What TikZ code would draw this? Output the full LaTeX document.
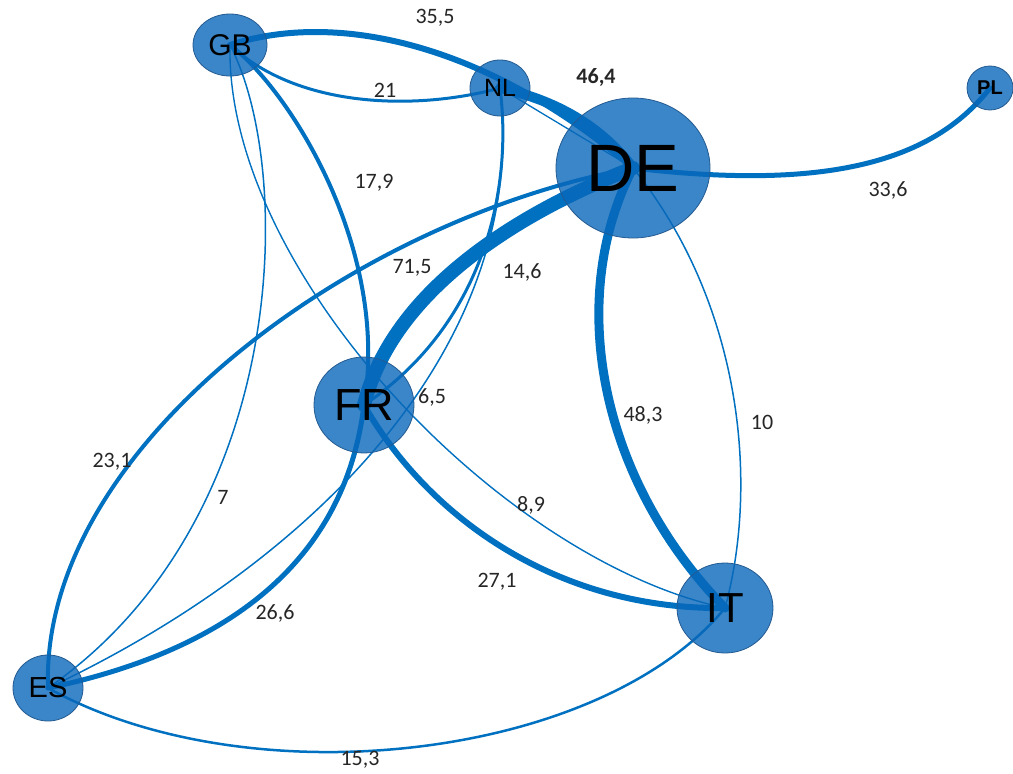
\documentclass[tikz,border=0pt]{standalone}
\usepackage{fontspec}
\setmainfont{Liberation Sans}
\newfontfamily\lblfont{Carlito}
\usetikzlibrary{shapes.geometric,backgrounds}
\definecolor{edgeblue}{RGB}{0,112,192}
\definecolor{nodeblue}{RGB}{9,104,186}
\definecolor{nodeborder}{RGB}{35,90,145}
\tikzset{
  country/.style={ellipse, inner sep=0pt, fill=nodeblue, fill opacity=0.8, text opacity=1,
    draw=nodeborder, line width=0.8pt, text=black},
  link/.style={draw=edgeblue, line cap=round},
  wlabel/.style={font=\lblfont\fontsize{22}{22}\selectfont, text=black!85, inner sep=0pt}
}
\begin{document}
\begin{tikzpicture}[x=1pt,y=-1pt]
\useasboundingbox (0,0) rectangle (1013,774);
% nodes
\node[country, minimum width=74pt, minimum height=62pt, font=\fontsize{30}{30}\selectfont] (GB) at (230,45) {GB};
\node[country, minimum width=60pt, minimum height=56pt, font=\fontsize{25}{25}\selectfont] (NL) at (500,88) {NL};
\node[country, minimum width=154pt, minimum height=140pt, font=\fontsize{67}{67}\selectfont] (DE) at (633,168) {DE};
\node[country, minimum width=46pt, minimum height=44pt, font=\bfseries\fontsize{20}{20}\selectfont] (PL) at (990,88) {PL};
\node[country, minimum width=100pt, minimum height=96pt, font=\fontsize{45}{45}\selectfont] (FR) at (364,405) {FR};
\node[country, minimum width=96pt, minimum height=90pt, font=\fontsize{42}{42}\selectfont] (IT) at (725,608) {IT};
\node[country, minimum width=70pt, minimum height=66pt, font=\fontsize{29}{29}\selectfont] (ES) at (48,688) {ES};
% edges
\begin{scope}[on background layer]
\draw[link, line width=6pt] (GB.center) .. controls (330,12) and (480,38) .. (DE.center);
\draw[link, line width=10pt] (NL.center) .. controls (555,100) and (600,125) .. (DE.center);
\draw[link, line width=1.3pt] (NL.center) -- (DE.center);
\draw[link, line width=3pt] (GB.center) .. controls (300,110) and (420,110) .. (NL.center);
\draw[link, line width=4pt] (GB.center) .. controls (290,90) and (390,250) .. (FR.center);
\draw[link, line width=1.5pt] (GB.center) .. controls (295,170) and (290,520) .. (ES.center);
\draw[link, line width=1.4pt] (GB.center) .. controls (225,270) and (500,560) .. (IT.center);
\draw[link, line width=3pt] (NL.center) .. controls (512,180) and (490,320) .. (FR.center);
\draw[link, line width=1.5pt] (NL.center) .. controls (530,340) and (320,560) .. (ES.center);
\draw[link, line width=14pt] (DE.center) .. controls (500,220) and (390,300) .. (FR.center);
\draw[link, line width=4pt] (DE.center) .. controls (350,220) and (40,450) .. (ES.center);
\draw[link, line width=9pt] (DE.center) .. controls (565,300) and (600,480) .. (IT.center);
\draw[link, line width=1.5pt] (DE.center) .. controls (740,300) and (760,480) .. (IT.center);
\draw[link, line width=5pt] (DE.center) .. controls (820,190) and (930,165) .. (PL.center);
\draw[link, line width=6pt] (FR.center) .. controls (430,520) and (560,610) .. (IT.center);
\draw[link, line width=5pt] (FR.center) .. controls (345,560) and (230,650) .. (ES.center);
\draw[link, line width=2.5pt] (ES.center) .. controls (250,800) and (600,760) .. (IT.center);
\end{scope}
% labels
\node[wlabel] (l355) at (435,18) {35,5};
\node[wlabel] (l21) at (385,90) {21};
\node[wlabel, font=\bfseries\lblfont\fontsize{22}{22}\selectfont] (l464) at (596,77) {46,4};
\node[wlabel] (l179) at (374,183) {17,9};
\node[wlabel] (l715) at (412,268) {71,5};
\node[wlabel] (l146) at (522,272) {14,6};
\node[wlabel] (l336) at (888,190) {33,6};
\node[wlabel] (l65) at (432,397) {6,5};
\node[wlabel] (l483) at (643,415) {48,3};
\node[wlabel] (l10) at (762,422) {10};
\node[wlabel] (l231) at (112,462) {23,1};
\node[wlabel] (l7) at (223,497) {7};
\node[wlabel] (l89) at (531,505) {8,9};
\node[wlabel] (l271) at (497,582) {27,1};
\node[wlabel] (l266) at (275,613) {26,6};
\node[wlabel] (l153) at (360,760) {15,3};
\end{tikzpicture}
\end{document}
